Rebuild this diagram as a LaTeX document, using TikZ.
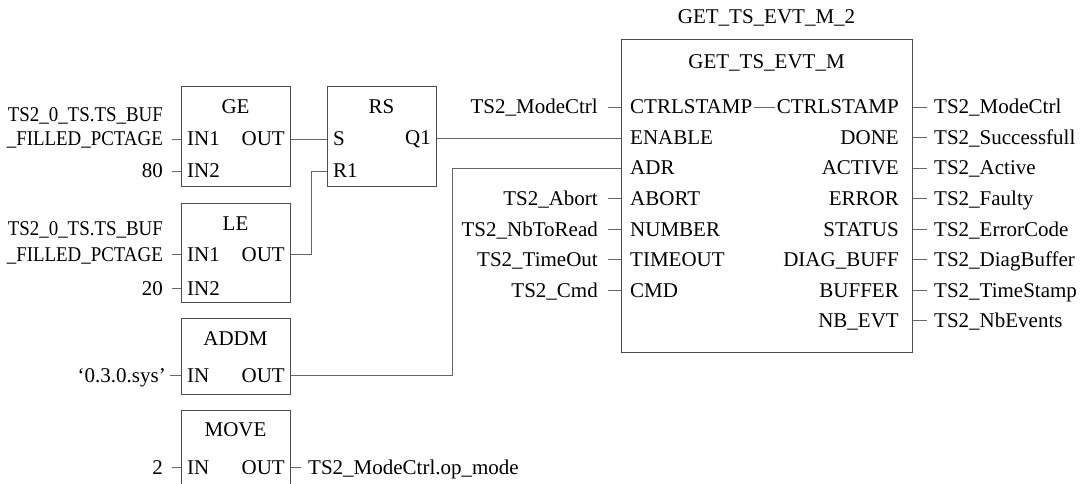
\documentclass[tikz,border=0pt]{standalone}
\usepackage{fontspec}
\setmainfont{Liberation Serif}
\usepackage{graphicx}
\tikzset{
  box/.style={draw=black!70, line width=0.9pt, inner sep=0pt, anchor=north west},
  lbl/.style={inner sep=0pt, text height=14pt, text depth=0pt},
  pinL/.style={lbl, anchor=west},
  pinR/.style={lbl, anchor=east},
  ttl/.style={lbl, anchor=center},
  wire/.style={draw=black!60, line width=0.8pt},
}
\newcommand{\sq}[1]{\scalebox{0.9}[1]{#1}}
\begin{document}
\begin{tikzpicture}[x=1pt, y=-1pt, font=\fontsize{21}{25}\selectfont]
\useasboundingbox (0,0) rectangle (1087,484);
\begin{scope}
\clip (0,0) rectangle (1087,484);
% ---------- boxes ----------
\node[box, minimum width=109pt, minimum height=100pt] (GE) at (181,86) {};
\node[box, minimum width=109pt, minimum height=100pt] (RS) at (327,86) {};
\node[box, minimum width=109pt, minimum height=99pt] (LE) at (181,203) {};
\node[box, minimum width=109pt, minimum height=76pt] (ADDM) at (181,318) {};
\node[box, minimum width=109pt, minimum height=100pt] (MOVE) at (181,410) {};
\node[box, minimum width=291pt, minimum height=313pt] (GET) at (621,39) {};

% ---------- GE ----------
\node[ttl] (GEt) at (235.5,107) {GE};
\node[pinL] (GEin1) at (187,139) {IN1};
\node[pinR] (GEout) at (285,139) {OUT};
\node[pinL] (GEin2) at (187,171) {IN2};
\node[pinR] (GEa) at (163,115) {\sq{TS2\_0\_TS.TS\_BUF}};
\node[pinR] (GEb) at (163,139) {\sq{\_FILLED\_PCTAGE}};
\node[pinR] (GEc) at (163,171) {80};
\draw[wire] (GE.west |- GEin1) -- ++(-9,0);
\draw[wire] (GE.west |- GEin2) -- ++(-9,0);

% ---------- RS ----------
\node[ttl] (RSt) at (381.5,107) {RS};
\node[pinL] (RSs) at (333,139) {S};
\node[pinR] (RSq) at (431,138) {Q1};
\node[pinL] (RSr) at (333,171) {R1};

% ---------- LE ----------
\node[ttl] (LEt) at (235.5,223) {LE};
\node[pinL] (LEin1) at (187,254) {IN1};
\node[pinR] (LEout) at (285,254) {OUT};
\node[pinL] (LEin2) at (187,288) {IN2};
\node[pinR] (LEa) at (163,228) {\sq{TS2\_0\_TS.TS\_BUF}};
\node[pinR] (LEb) at (163,254) {\sq{\_FILLED\_PCTAGE}};
\node[pinR] (LEc) at (163,288) {20};
\draw[wire] (LE.west |- LEin1) -- ++(-9,0);
\draw[wire] (LE.west |- LEin2) -- ++(-9,0);

% ---------- ADDM ----------
\node[ttl] (ADt) at (235.5,338) {ADDM};
\node[pinL] (ADin) at (187,375) {IN};
\node[pinR] (ADout) at (285,375) {OUT};
\node[pinR] (ADa) at (166,375) {‘0.3.0.sys’};
\draw[wire] (ADDM.west |- ADin) -- ++(-11,0);

% ---------- MOVE ----------
\node[ttl] (MVt) at (235.5,429) {MOVE};
\node[pinL] (MVin) at (187,467) {IN};
\node[pinR] (MVout) at (285,467) {OUT};
\node[pinR] (MVa) at (163,467) {2};
\node[pinL] (MVb) at (308,467) {TS2\_ModeCtrl.op\_mode};
\draw[wire] (MOVE.west |- MVin) -- ++(-9,0);
\draw[wire] (MOVE.east |- MVout) -- ++(10,0);

% ---------- GET_TS_EVT_M ----------
\node[ttl] (GETo) at (766.5,17) {GET\_TS\_EVT\_M\_2};
\node[ttl] (GETt) at (766.5,62) {GET\_TS\_EVT\_M};
\node[pinL] (gCTRL) at (630,107) {CTRLSTAMP};
\node[pinL] (gEN) at (630,137.5) {ENABLE};
\node[pinL] (gADR) at (630,168) {ADR};
\node[pinL] (gAB) at (630,198.5) {ABORT};
\node[pinL] (gNUM) at (630,229) {NUMBER};
\node[pinL] (gTO) at (630,259.5) {TIMEOUT};
\node[pinL] (gCMD) at (630,290) {CMD};
\node[pinR] (oCTRL) at (899,107) {CTRLSTAMP};
\node[pinR] (oDONE) at (899,137.5) {DONE};
\node[pinR] (oACT) at (899,168) {ACTIVE};
\node[pinR] (oERR) at (899,198.5) {ERROR};
\node[pinR] (oSTA) at (899,229) {STATUS};
\node[pinR] (oDIAG) at (899,259.5) {DIAG\_BUFF};
\node[pinR] (oBUF) at (899,290) {BUFFER};
\node[pinR] (oNB) at (899,320.5) {NB\_EVT};
\draw[wire] ([xshift=2pt]gCTRL.east) -- ([xshift=-2pt]oCTRL.west);

% left variables
\node[pinR] (vCTRL) at (598,107) {TS2\_ModeCtrl};
\node[pinR] (vAB) at (598,198.5) {TS2\_Abort};
\node[pinR] (vNUM) at (598,229) {TS2\_NbToRead};
\node[pinR] (vTO) at (598,259.5) {TS2\_TimeOut};
\node[pinR] (vCMD) at (598,290) {TS2\_Cmd};
\foreach \p in {gCTRL,gAB,gNUM,gTO,gCMD}
  \draw[wire] (GET.west |- \p) -- ++(-13,0);

% right variables
\node[pinL] (wCTRL) at (934,107) {TS2\_ModeCtrl};
\node[pinL] (wDONE) at (934,137.5) {TS2\_Successfull};
\node[pinL] (wACT) at (934,168) {TS2\_Active};
\node[pinL] (wERR) at (934,198.5) {TS2\_Faulty};
\node[pinL] (wSTA) at (934,229) {TS2\_ErrorCode};
\node[pinL] (wDIAG) at (934,259.5) {TS2\_DiagBuffer};
\node[pinL] (wBUF) at (934,290) {TS2\_TimeStamp};
\node[pinL] (wNB) at (934,320.5) {TS2\_NbEvents};
\foreach \p in {oCTRL,oDONE,oACT,oERR,oSTA,oDIAG,oBUF,oNB}
  \draw[wire] (GET.east |- \p) -- ++(14,0);

% ---------- connections ----------
\coordinate (adrx) at (452,0);
\draw[wire] (GE.east |- GEout) -- (RS.west |- RSs);
\draw[wire] (LE.east |- LEout) -- ++(20,0) |- (RS.west |- RSr);
\draw[wire] (RS.east |- RSq) -- (GET.west |- RSq);
\draw[wire] (ADDM.east |- ADout) -| (adrx |- gADR) -- (GET.west |- gADR);
\end{scope}
\end{tikzpicture}
\end{document}
